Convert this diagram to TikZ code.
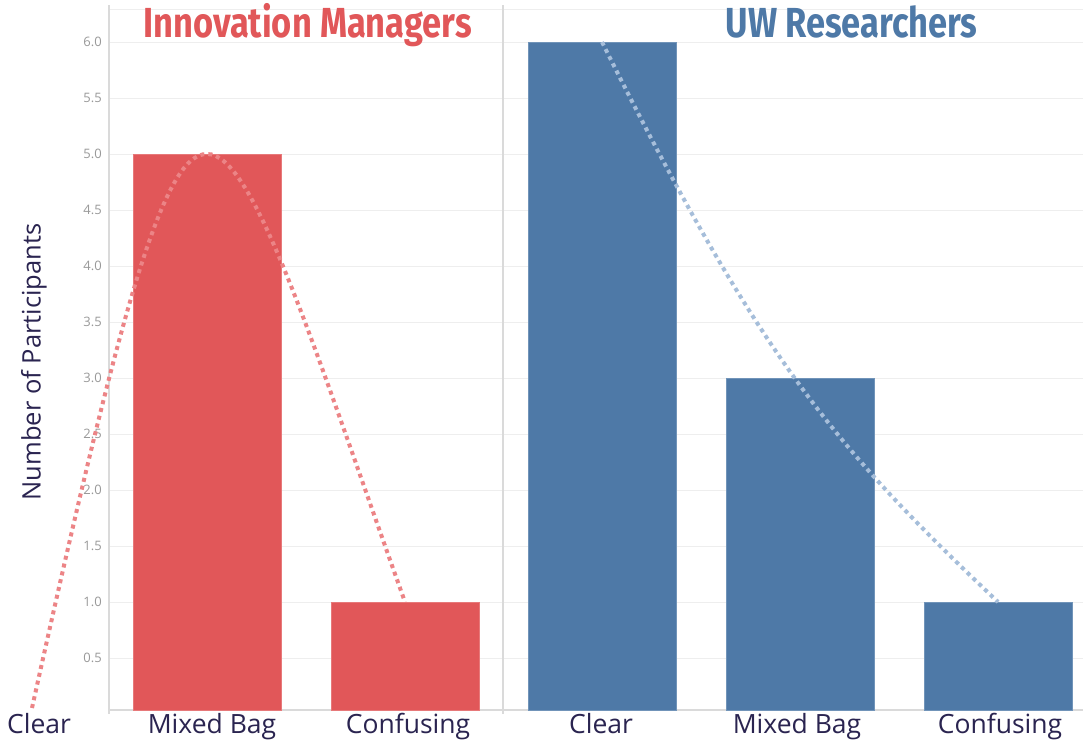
\documentclass[tikz,border=0pt]{standalone}
\usepackage{fontspec}
\setmainfont{Open Sans}
\newfontfamily\titlefont{Fira Sans}
\definecolor{imred}{HTML}{E15759}
\definecolor{uwblue}{HTML}{4E79A7}
\definecolor{imdot}{HTML}{EC8486}
\definecolor{uwdot}{HTML}{A6BEDA}
\definecolor{gridc}{HTML}{EEEEEE}
\definecolor{axisc}{HTML}{DADADA}
\definecolor{tickc}{HTML}{999999}
\definecolor{labc}{HTML}{2A2450}
\tikzset{
  gridline/.style={draw=gridc, line width=1pt},
  axisline/.style={draw=axisc, line width=1.6pt},
  ticklab/.style={anchor=east, inner sep=0pt, text=tickc, font=\fontsize{13}{13}\selectfont},
  catlab/.style={anchor=base, inner sep=0pt, text=labc, font=\fontsize{26.5}{26.5}\selectfont},
  bar/.style={anchor=south, minimum width=148pt, inner sep=0pt, outer sep=0pt},
  imbar/.style={bar, fill=imred, draw=imred!80!white, line width=0.6pt},
  uwbar/.style={bar, fill=uwblue, draw=uwblue!80!white, line width=0.6pt},
  trend/.style={line width=4pt, dash pattern=on 4pt off 4pt},
  titlelab/.style={anchor=base, inner sep=0pt, font=\titlefont\bfseries\fontsize{42}{42}\selectfont}
}
\begin{document}
\begin{tikzpicture}[x=1pt,y=-1pt]
\useasboundingbox (0,0) rectangle (1083,744);
\fill[white] (0,0) rectangle (1083,744);
% grid lines
\draw[gridline] (109,9) -- (1083,9);
\foreach \i/\t in {1/0.5,2/1.0,3/1.5,4/2.0,5/2.5,6/3.0,7/3.5,8/4.0,9/4.5,10/5.0,11/5.5,12/6.0}{
  \draw[gridline] (109,{714-56*\i}) -- (1083,{714-56*\i});
  \node[ticklab] (tick\i) at (102,{714-56*\i}) {\t};
}
% axes
\draw[axisline] (109,5) -- (109,714);
\draw[axisline] (503,5) -- (503,714);
\draw[axisline] (109,710) -- (1083,710);
% bars
\node[imbar, minimum height=556pt] (imMixed) at (207,710) {};
\node[imbar, minimum height=108pt] (imConf) at (405,710) {};
\node[uwbar, minimum height=668pt] (uwClear) at (602,710) {};
\node[uwbar, minimum height=332pt] (uwMixed) at (800,710) {};
\node[uwbar, minimum height=108pt] (uwConf) at (998,710) {};
% trend lines
\coordinate (imStart) at (32,708);
\draw[trend, imdot] (imStart) .. controls (122,301) and (164,153) .. (imMixed.north)
  .. controls (254,153) and (313,345) .. (imConf.north);
\draw[trend, uwdot] (uwClear.north) .. controls (762,363) and (837,449) .. (uwConf.north);
% titles
\node[titlelab, text=imred] (titleIM) at (307.5,37) {\scalebox{0.82}[1]{Innovation Managers}};
\node[titlelab, text=uwblue] (titleUW) at (851.5,37) {\scalebox{0.82}[1]{UW Researchers}};
% category labels
\node[catlab] (cClearIM) at (39,733) {Clear};
\node[catlab] (cMixedIM) at (212,733) {Mixed Bag};
\node[catlab] (cConfIM) at (408,733) {Confusing};
\node[catlab] (cClearUW) at (601,733) {Clear};
\node[catlab] (cMixedUW) at (797,733) {Mixed Bag};
\node[catlab] (cConfUW) at (1000,733) {Confusing};
% axis title
\node[rotate=90, inner sep=0pt, text=labc, font=\fontsize{25.5}{25.5}\selectfont] (ytitle) at (34,362) {Number of Participants};
\end{tikzpicture}
\end{document}
